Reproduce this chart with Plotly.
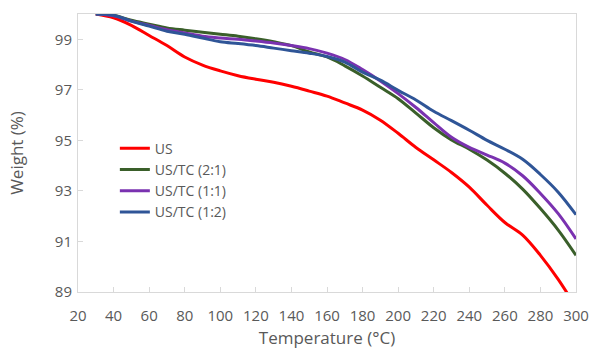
import plotly.graph_objects as go

temps = [30, 40, 50, 60, 70, 80, 90, 100, 110, 120, 130, 140, 150, 160, 170,
         180, 190, 200, 210, 220, 230, 240, 250, 260, 270, 280, 290, 300]

us = [100.0, 99.85, 99.55, 99.15, 98.75, 98.3, 97.98, 97.75, 97.56, 97.42, 97.3, 97.14,
      96.95, 96.75, 96.48, 96.2, 95.8, 95.28, 94.72, 94.23, 93.73, 93.15, 92.43, 91.75,
      91.25, 90.45, 89.5, 88.4]
us_tc_21 = [100.0, 99.95, 99.75, 99.6, 99.45, 99.36, 99.28, 99.2, 99.12, 99.02, 98.9,
            98.75, 98.5, 98.3, 97.95, 97.55, 97.1, 96.65, 96.08, 95.5, 95.02, 94.65,
            94.22, 93.7, 93.07, 92.3, 91.45, 90.45]
us_tc_11 = [100.0, 99.93, 99.72, 99.55, 99.38, 99.25, 99.12, 99.05, 99.0, 98.93, 98.85,
            98.75, 98.63, 98.45, 98.2, 97.8, 97.35, 96.85, 96.3, 95.7, 95.12, 94.72,
            94.42, 94.1, 93.6, 92.9, 92.1, 91.1]
us_tc_12 = [100.0, 99.95, 99.72, 99.52, 99.32, 99.2, 99.05, 98.9, 98.83, 98.75, 98.65,
            98.55, 98.45, 98.32, 98.1, 97.7, 97.38, 96.98, 96.6, 96.15, 95.78, 95.4,
            95.0, 94.65, 94.25, 93.65, 92.95, 92.06]

series_names = ["US", "US/TC (2:1)", "US/TC (1:1)", "US/TC (1:2)"]
series_values = [us, us_tc_21, us_tc_11, us_tc_12]
colors = ["#ff0000", "#3a5f2a", "#7a32b0", "#2f5597"]

x_ticks = list(range(20, 301, 20))
y_ticks = [89, 91, 93, 95, 97, 99]

fig = go.Figure()
for name, vals, c in zip(series_names, series_values, colors):
    fig.add_trace(go.Scatter(x=temps, y=vals, mode="lines", name=name,
                             line=dict(color=c, width=3, shape="spline", smoothing=1.0)))

font_family = "Open Sans, Liberation Sans, sans-serif"
axis_color = "#d9d9d9"
text_color = "#595959"

fig.update_layout(
    width=591, height=349,
    margin=dict(l=78, r=15, t=14, b=57),
    paper_bgcolor="white", plot_bgcolor="white",
    font=dict(family=font_family, size=15, color=text_color),
    showlegend=True,
    legend=dict(x=0.074, y=0.573, xanchor="left", yanchor="top",
                bgcolor="rgba(0,0,0,0)", font=dict(size=14, color=text_color),
                itemwidth=30, tracegroupgap=0),
    xaxis=dict(range=[20, 300], tickvals=x_ticks, showline=True, linecolor=axis_color,
               linewidth=1, mirror=True, ticks="inside", ticklen=5, tickcolor=axis_color,
               showgrid=False, zeroline=False, ticklabelstandoff=10, automargin=False,
               title=dict(text="Temperature (°C)", font=dict(size=17), standoff=12)),
    yaxis=dict(range=[89, 100], tickvals=y_ticks, showline=True, linecolor=axis_color,
               linewidth=1, mirror=True, ticks="inside", ticklen=5, tickcolor=axis_color,
               showgrid=False, zeroline=False, ticklabelstandoff=2, automargin=False,
               title=dict(text="Weight (%)", font=dict(size=17), standoff=26)),
)

fig.write_html("out.html", config={"displayModeBar": False},
               post_script="document.body.style.margin='0';document.body.style.overflow='hidden';")
